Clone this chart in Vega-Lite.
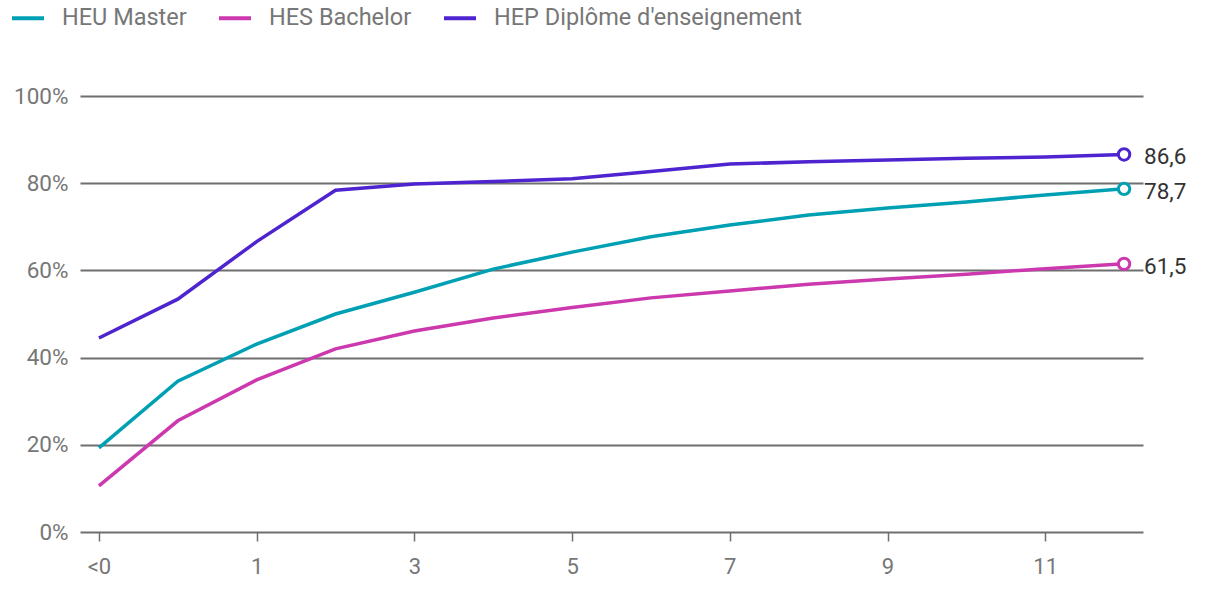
{
  "$schema": "https://vega.github.io/schema/vega-lite/v6.json",
  "width": 1063,
  "height": 436,
  "autosize": "none",
  "padding": {"left": 80, "top": 96, "right": 77, "bottom": 62},
  "background": "white",
  "config": {
    "view": {"stroke": null},
    "font": "Roboto",
    "locale": {"number": {"decimal": ",", "thousands": ".", "grouping": [3], "currency": ["", ""]}}
  },
  "data": {
    "values": [
      {"annee": "<0", "diplome": "HEU Master", "taux": 19.3},
      {"annee": "0", "diplome": "HEU Master", "taux": 34.6},
      {"annee": "1", "diplome": "HEU Master", "taux": 43.1},
      {"annee": "2", "diplome": "HEU Master", "taux": 50.0},
      {"annee": "3", "diplome": "HEU Master", "taux": 55.0},
      {"annee": "4", "diplome": "HEU Master", "taux": 60.3},
      {"annee": "5", "diplome": "HEU Master", "taux": 64.2},
      {"annee": "6", "diplome": "HEU Master", "taux": 67.7},
      {"annee": "7", "diplome": "HEU Master", "taux": 70.4},
      {"annee": "8", "diplome": "HEU Master", "taux": 72.7},
      {"annee": "9", "diplome": "HEU Master", "taux": 74.3},
      {"annee": "10", "diplome": "HEU Master", "taux": 75.7},
      {"annee": "11", "diplome": "HEU Master", "taux": 77.3},
      {"annee": "12", "diplome": "HEU Master", "taux": 78.7},
      {"annee": "<0", "diplome": "HES Bachelor", "taux": 10.6},
      {"annee": "0", "diplome": "HES Bachelor", "taux": 25.5},
      {"annee": "1", "diplome": "HES Bachelor", "taux": 34.9},
      {"annee": "2", "diplome": "HES Bachelor", "taux": 42.0},
      {"annee": "3", "diplome": "HES Bachelor", "taux": 46.1},
      {"annee": "4", "diplome": "HES Bachelor", "taux": 49.1},
      {"annee": "5", "diplome": "HES Bachelor", "taux": 51.5},
      {"annee": "6", "diplome": "HES Bachelor", "taux": 53.7},
      {"annee": "7", "diplome": "HES Bachelor", "taux": 55.3},
      {"annee": "8", "diplome": "HES Bachelor", "taux": 56.8},
      {"annee": "9", "diplome": "HES Bachelor", "taux": 58.0},
      {"annee": "10", "diplome": "HES Bachelor", "taux": 59.1},
      {"annee": "11", "diplome": "HES Bachelor", "taux": 60.4},
      {"annee": "12", "diplome": "HES Bachelor", "taux": 61.5},
      {"annee": "<0", "diplome": "HEP Diplôme d'enseignement", "taux": 44.5},
      {"annee": "0", "diplome": "HEP Diplôme d'enseignement", "taux": 53.4},
      {"annee": "1", "diplome": "HEP Diplôme d'enseignement", "taux": 66.6},
      {"annee": "2", "diplome": "HEP Diplôme d'enseignement", "taux": 78.4},
      {"annee": "3", "diplome": "HEP Diplôme d'enseignement", "taux": 79.8},
      {"annee": "4", "diplome": "HEP Diplôme d'enseignement", "taux": 80.4},
      {"annee": "5", "diplome": "HEP Diplôme d'enseignement", "taux": 81.0},
      {"annee": "6", "diplome": "HEP Diplôme d'enseignement", "taux": 82.7},
      {"annee": "7", "diplome": "HEP Diplôme d'enseignement", "taux": 84.4},
      {"annee": "8", "diplome": "HEP Diplôme d'enseignement", "taux": 84.9},
      {"annee": "9", "diplome": "HEP Diplôme d'enseignement", "taux": 85.3},
      {"annee": "10", "diplome": "HEP Diplôme d'enseignement", "taux": 85.7},
      {"annee": "11", "diplome": "HEP Diplôme d'enseignement", "taux": 86.0},
      {"annee": "12", "diplome": "HEP Diplôme d'enseignement", "taux": 86.6}
    ]
  },
  "encoding": {
    "x": {
      "field": "annee",
      "type": "ordinal",
      "sort": ["<0", "0", "1", "2", "3", "4", "5", "6", "7", "8", "9", "10", "11", "12"],
      "scale": {"type": "point", "padding": 0.24},
      "axis": {
        "title": null,
        "values": ["<0", "1", "3", "5", "7", "9", "11"],
        "labelAngle": 0,
        "labelFontSize": 22,
        "labelColor": "#777777",
        "labelFont": "Roboto",
        "labelPadding": 15,
        "tickColor": "#6f6f6f",
        "tickWidth": 1.5,
        "tickSize": 9,
        "domain": false,
        "grid": false
      }
    },
    "y": {
      "field": "taux",
      "type": "quantitative",
      "scale": {"domain": [0, 100]},
      "axis": {
        "title": null,
        "values": [0, 20, 40, 60, 80, 100],
        "labelExpr": "datum.value + '%'",
        "labelFontSize": 22.5,
        "labelColor": "#777777",
        "labelFont": "Roboto",
        "labelPadding": 12,
        "ticks": false,
        "domain": false,
        "grid": true,
        "gridColor": "#6f6f6f",
        "gridWidth": 2
      }
    },
    "color": {
      "field": "diplome",
      "type": "nominal",
      "sort": ["HEU Master", "HES Bachelor", "HEP Diplôme d'enseignement"],
      "scale": {
        "domain": ["HEU Master", "HES Bachelor", "HEP Diplôme d'enseignement"],
        "range": ["#00a0b4", "#cc38ae", "#4e24d0"]
      },
      "legend": {
        "title": null,
        "orient": "none",
        "direction": "horizontal",
        "legendX": -70,
        "legendY": -96,
        "symbolType": "stroke",
        "symbolSize": 1024,
        "symbolStrokeWidth": 4,
        "labelFontSize": 23.5,
        "labelColor": "#777777",
        "labelFont": "Roboto",
        "labelOffset": 16,
        "labelLimit": 500,
        "columnPadding": 24,
        "padding": 0
      }
    }
  },
  "layer": [
    {
      "mark": {"type": "line", "strokeWidth": 3.5}
    },
    {
      "transform": [{"filter": "datum.annee == '12'"}],
      "mark": {"type": "point", "filled": false, "fill": "white", "fillOpacity": 1, "strokeWidth": 3, "size": 130, "opacity": 1}
    },
    {
      "transform": [{"filter": "datum.annee == '12'"}],
      "mark": {"type": "text", "align": "left", "dx": 20, "dy": 3, "fontSize": 22.5, "font": "Roboto", "color": "#333333"},
      "encoding": {
        "text": {"field": "taux", "type": "quantitative", "format": ".1f"},
        "color": {"value": "#333333"}
      }
    }
  ]
}
